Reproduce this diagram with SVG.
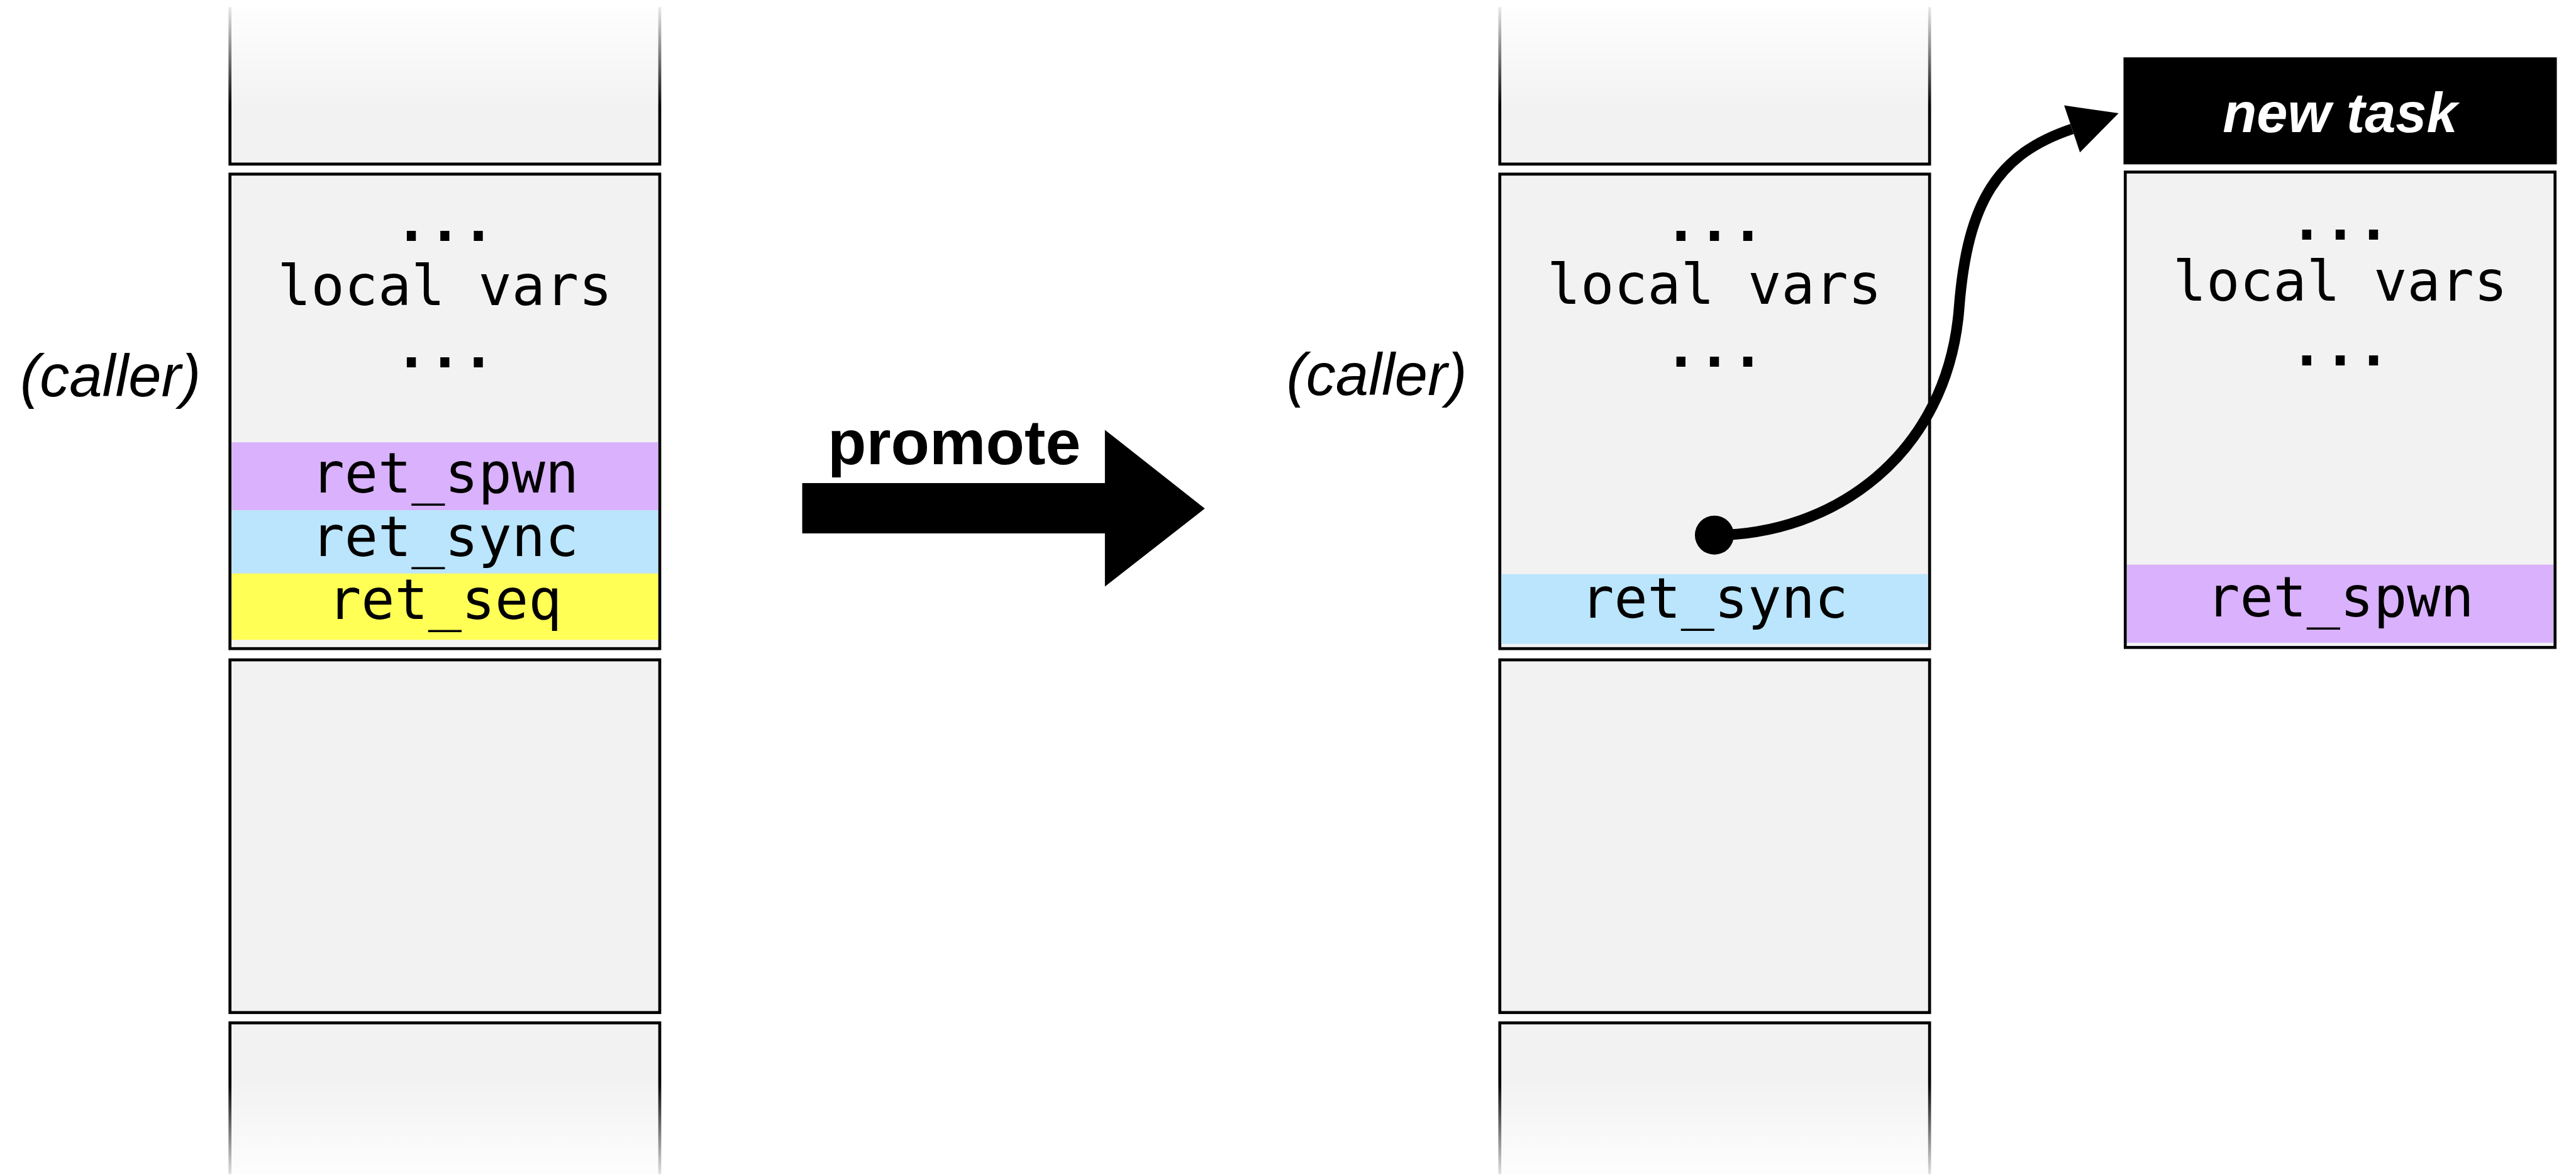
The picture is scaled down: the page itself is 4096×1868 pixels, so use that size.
<svg xmlns="http://www.w3.org/2000/svg" width="4096" height="1868" viewBox="0 0 4096 1868">
  <style>
    .frame { fill: #f2f2f2; stroke: #000; stroke-width: 5; }
    .fill { fill: #f2f2f2; }
    .edge { fill: none; stroke: #000; stroke-width: 5; }
    .spwn { fill: #d9b1fc; }
    .sync { fill: #bae5fc; }
    .seq { fill: #ffff55; }
    .mono { font-family: "DejaVu Sans Mono", "Liberation Mono", monospace; font-size: 94px; text-anchor: middle; fill: #000; }
    .dots { font-weight: bold; }
    .caller { font-family: "Liberation Sans", Arial, sans-serif; font-style: italic; font-size: 100px; fill: #000; }
    .promote { font-family: "Liberation Sans", Arial, sans-serif; font-weight: bold; font-size: 107px; fill: #000; }
    .header { font-family: "Liberation Sans", Arial, sans-serif; font-weight: bold; font-style: italic; font-size: 94px; fill: #fff; text-anchor: middle; }
    .link { fill: none; stroke: #000; stroke-width: 18; }
  </style>
  <defs>
    <linearGradient id="gTop" gradientUnits="userSpaceOnUse" x1="0" y1="12" x2="0" y2="183">
      <stop offset="0" stop-color="#fff" stop-opacity="0.08"/>
      <stop offset="1" stop-color="#fff" stop-opacity="1"/>
    </linearGradient>
    <linearGradient id="gBot" gradientUnits="userSpaceOnUse" x1="0" y1="1830" x2="0" y2="1986">
      <stop offset="0" stop-color="#fff" stop-opacity="1"/>
      <stop offset="1" stop-color="#fff" stop-opacity="0.12"/>
    </linearGradient>
    <mask id="fadeTop" maskUnits="userSpaceOnUse" x="0" y="0" width="4354" height="1986">
      <rect x="0" y="0" width="4354" height="1986" fill="url(#gTop)"/>
    </mask>
    <mask id="fadeBot" maskUnits="userSpaceOnUse" x="0" y="0" width="4354" height="1986">
      <rect x="0" y="0" width="4354" height="1986" fill="url(#gBot)"/>
    </mask>
    <marker id="head" markerUnits="userSpaceOnUse" markerWidth="100" markerHeight="100" viewBox="0 -50 100 100" refX="0" refY="0" orient="auto" overflow="visible">
      <path d="M0,-42 L83,0 L0,42 Z" fill="#000"/>
    </marker>
    <marker id="dot" markerUnits="userSpaceOnUse" markerWidth="70" markerHeight="70" viewBox="-35 -35 70 70" refX="0" refY="0" overflow="visible">
      <circle cx="0" cy="0" r="33" fill="#000"/>
    </marker>
  </defs>

  <rect x="0" y="0" width="4096" height="1868" fill="#fff"/>

  <g transform="scale(0.94)">
    <!-- stack before promotion -->
    <g id="before-above" mask="url(#fadeTop)">
      <rect class="fill" x="389" y="12" width="727" height="265.5"/>
      <path class="edge" d="M389,12 V277.5 H1116 V12"/>
    </g>
    <g id="before-caller">
      <rect class="frame" x="389" y="294.5" width="727" height="802.5"/>
      <rect class="spwn" x="392" y="748" width="721" height="115"/>
      <rect class="sync" x="392" y="863" width="721" height="107"/>
      <rect class="seq" x="392" y="970" width="721" height="112"/>
      <text class="mono dots" x="752.5" y="407">...</text>
      <text class="mono" x="752.5" y="516">local vars</text>
      <text class="mono dots" x="752.5" y="621">...</text>
      <text class="mono" x="752.5" y="833">ret_spwn</text>
      <text class="mono" x="752.5" y="940">ret_sync</text>
      <text class="mono" x="752.5" y="1047">ret_seq</text>
    </g>
    <g id="before-callee">
      <rect class="frame" x="389" y="1116" width="727" height="596.5"/>
    </g>
    <g id="before-below" mask="url(#fadeBot)">
      <rect class="fill" x="389" y="1730" width="727" height="256"/>
      <path class="edge" d="M389,1986 V1730 H1116 V1986"/>
    </g>
    <text id="before-caller-label" class="caller" x="34" y="670">(caller)</text>

    <!-- promote arrow -->
    <g id="promote">
      <polygon points="1357,817 1869,817 1869,727 2038,860 1869,992 1869,902 1357,902" fill="#000"/>
      <text class="promote" x="1400" y="785">promote</text>
    </g>

    <!-- stack after promotion -->
    <g id="after-above" mask="url(#fadeTop)">
      <rect class="fill" x="2537" y="12" width="727" height="265.5"/>
      <path class="edge" d="M2537,12 V277.5 H3264 V12"/>
    </g>
    <g id="after-caller">
      <rect class="frame" x="2537" y="294.5" width="727" height="802.5"/>
      <rect class="sync" x="2540" y="971" width="721" height="118"/>
      <text class="mono dots" x="2900" y="407">...</text>
      <text class="mono" x="2900" y="514">local vars</text>
      <text class="mono dots" x="2900" y="620">...</text>
      <text class="mono" x="2900" y="1045">ret_sync</text>
    </g>
    <g id="after-callee">
      <rect class="frame" x="2537" y="1116" width="727" height="596.5"/>
    </g>
    <g id="after-below" mask="url(#fadeBot)">
      <rect class="fill" x="2537" y="1730" width="727" height="256"/>
      <path class="edge" d="M2537,1986 V1730 H3264 V1986"/>
    </g>
    <text id="after-caller-label" class="caller" x="2176" y="668">(caller)</text>

    <!-- promoted task -->
    <g id="new-task">
      <rect x="3592" y="97" width="733" height="181" fill="#000"/>
      <text class="header" x="3958.5" y="223">new task</text>
      <rect class="frame" x="3595" y="291" width="727" height="804"/>
      <rect class="spwn" x="3598" y="955" width="721" height="132"/>
      <text class="mono dots" x="3958.5" y="405">...</text>
      <text class="mono" x="3958.5" y="508">local vars</text>
      <text class="mono dots" x="3958.5" y="618">...</text>
      <text class="mono" x="3958.5" y="1043">ret_spwn</text>
    </g>

    <!-- connectors -->
    <g id="connectors">
      <path class="link" d="M2900,905 C3100,905 3295,770 3314,520 C3328,340 3380,260 3505,218" marker-start="url(#dot)" marker-end="url(#head)"/>
    </g>
  </g>
</svg>
